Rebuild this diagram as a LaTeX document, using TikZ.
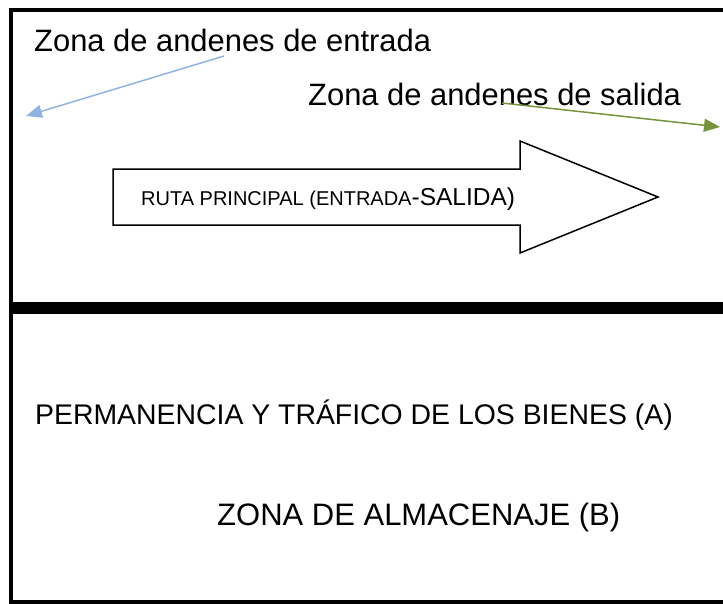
\documentclass[tikz,border=0pt]{standalone}
\usepackage{fontspec}
\setmainfont{Liberation Sans}
\usepackage{tikz}
\usetikzlibrary{positioning}
\usetikzlibrary{arrows.meta}
\definecolor{azul}{HTML}{8EB4E3}
\definecolor{verde}{HTML}{77933C}
\tikzset{zonetext/.style={anchor=base west, inner sep=0pt}}
\tikzset{flecha/.style={line width=1.5pt, -{Triangle[length=16pt,width=13pt]}}}

\begin{document}
\begin{tikzpicture}[x=1pt,y=-1pt]
\useasboundingbox (0,0) rectangle (723,603);
% marco
\draw[line width=4.5pt] (740,10) -- (11,10) -- (11,602.5) -- (740,602.5);
\draw[line width=12pt] (9,308) -- (740,308);
% ruta principal
\draw[line width=1.5pt] (113,169) -- (520,169) -- (520,141) -- (658,197)
  -- (520,253) -- (520,225) -- (113,225) -- cycle;
\node[zonetext, font=\fontsize{20}{24}\selectfont] (ruta) at (141,205)
  {RUTA PRINCIPAL (ENTRADA\fontsize{24.5}{29}\selectfont-SALIDA)};
% andenes
\node[zonetext, font=\fontsize{30.9}{36}\selectfont] (entrada) at (34,51) {Zona de andenes de entrada};
\node[zonetext, font=\fontsize{30.9}{36}\selectfont] (salida) at (308,105) {Zona de andenes de salida};
\coordinate (entradaPie) at (224,56);
\coordinate (entradaPunta) at (26,116);
\coordinate (salidaPie) at (502,103);
\coordinate (salidaPunta) at (720,127);
\draw[flecha, azul] (entradaPie) -- (entradaPunta);
\draw[flecha, verde] (salidaPie) -- (salidaPunta);
% zona inferior
\node[zonetext, font=\fontsize{28.4}{34}\selectfont] (bienes) at (35,424) {PERMANENCIA Y TRÁFICO DE LOS BIENES (A)};
\node[zonetext, font=\fontsize{31}{36}\selectfont] (almacen) at (217,525) {ZONA DE ALMACENAJE (B)};
\end{tikzpicture}
\end{document}
